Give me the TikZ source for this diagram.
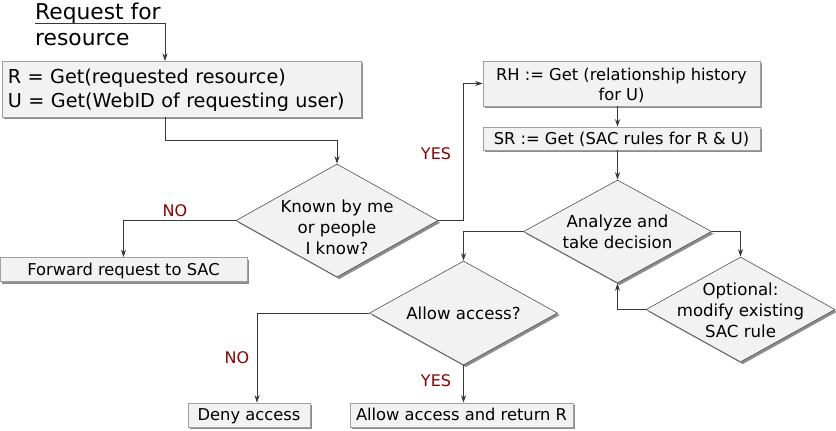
\documentclass[tikz,border=0pt]{standalone}
\usepackage{fontspec}
\setmainfont{DejaVu Sans}
\usetikzlibrary{shapes.geometric,arrows.meta,shadows,calc}
\definecolor{boxfill}{HTML}{F2F2F2}
\definecolor{boxline}{HTML}{A0A0A0}
\definecolor{diamline}{HTML}{505050}
\definecolor{shadowc}{HTML}{8C8C8C}
\definecolor{conn}{HTML}{383838}
\definecolor{lab}{HTML}{8B0000}
\begin{document}
\begin{tikzpicture}[x=1bp,y=-1bp,
  every node/.style={font=\fontsize{16.3bp}{20.5bp}\selectfont},
  stepbox/.style={rectangle, fill=boxfill, draw=boxline, line width=0.6bp,
    inner sep=0pt,
    drop shadow={shadow xshift=2.2bp, shadow yshift=-2.2bp, fill=shadowc, opacity=1}},
  oneline/.style={text height=11bp, text depth=0bp},
  decision/.style={diamond, shape aspect=1.8, fill=boxfill, draw=diamline, line width=0.6bp,
    inner sep=-14bp, align=center, font=\fontsize{16.6bp}{20.8bp}\selectfont,
    drop shadow={shadow xshift=2.2bp, shadow yshift=-2.2bp, fill=shadowc, opacity=1}},
  arr/.style={draw=conn, line width=0.7bp, -{Stealth[length=7.5bp,width=5bp]}},
  ans/.style={text=lab, inner sep=0pt, font=\fontsize{16bp}{20bp}\selectfont}
]
\useasboundingbox (0,0) rectangle (836,430);

% title
\node[anchor=west, align=left, inner sep=0pt, font=\fontsize{21.8bp}{26bp}\selectfont] (title) at (35,24) {Request for\\resource};
\coordinate (tstart) at (35,23);

% boxes
\node[stepbox, minimum width=359bp, minimum height=56bp, text width=347bp, align=left,
  text depth=26bp,
  font=\fontsize{19.2bp}{24.5bp}\selectfont] (box1) at (181.5,89) {R = Get(requested resource)\\U = Get(WebID of requesting user)};
\node[stepbox, oneline, minimum width=247bp, minimum height=24bp] (fwd) at (123.5,269.5) {Forward request to SAC};
\node[stepbox, minimum width=277bp, minimum height=45bp, align=center,
  text height=36bp, text depth=1.6bp] (rh) at (621.5,83.5) {RH := Get (relationship history\\for U)};
\node[stepbox, oneline, minimum width=277bp, minimum height=23bp] (sr) at (621.5,138.5) {SR := Get (SAC rules for R \& U)};
\node[stepbox, oneline, minimum width=122bp, minimum height=24bp] (deny) at (249,415) {Deny access};
\node[stepbox, oneline, minimum width=223bp, minimum height=24bp] (allow) at (461.5,415) {Allow access and return R};

% decisions
\node[decision, minimum width=202bp, minimum height=113bp, text height=67.6bp, text depth=0bp] (d1) at (337,220.5) {Known by me\\or people\\I know?};
\node[decision, minimum width=188bp, minimum height=103bp] (d2) at (617.5,231.5) {Analyze and\\take decision};
\node[decision, minimum width=188bp, minimum height=104bp] (d3) at (463.5,313) {Allow access?};
\node[decision, minimum width=189bp, minimum height=105bp, text height=55.6bp, text depth=0bp] (d4) at (740.5,309.5) {Optional:\\modify existing\\SAC rule};

% connectors
\coordinate (b1in) at (165,61);
\coordinate (b1out) at (165,117);
\draw[arr] (tstart) -| (b1in);
\draw[arr] (b1out) -- (165,140) -| (d1.north);
\draw[arr] (d1.west) -| (fwd.north);
\draw[arr] (d1.east) -- ++(25,0) |- (rh.west);
\draw[arr] (rh.south -| d2.north) -- (sr.north -| d2.north);
\draw[arr] (sr.south -| d2.north) -- (d2.north);
\draw[arr] (d2.west) -| (d3.north);
\draw[arr] (d2.east) -| (d4.north);
\draw[arr] (d4.west) -| (d2.south);
\draw[arr] (d3.west) -| ([xshift=8bp]deny.north);
\draw[arr] (d3.south) -- (allow.north -| d3.south);

% answer labels
\node[ans] (no1) at (175,211) {NO};
\node[ans] (yes1) at (436,154) {YES};
\node[ans] (no2) at (237,358) {NO};
\node[ans] (yes2) at (436,381) {YES};
\end{tikzpicture}
\end{document}
